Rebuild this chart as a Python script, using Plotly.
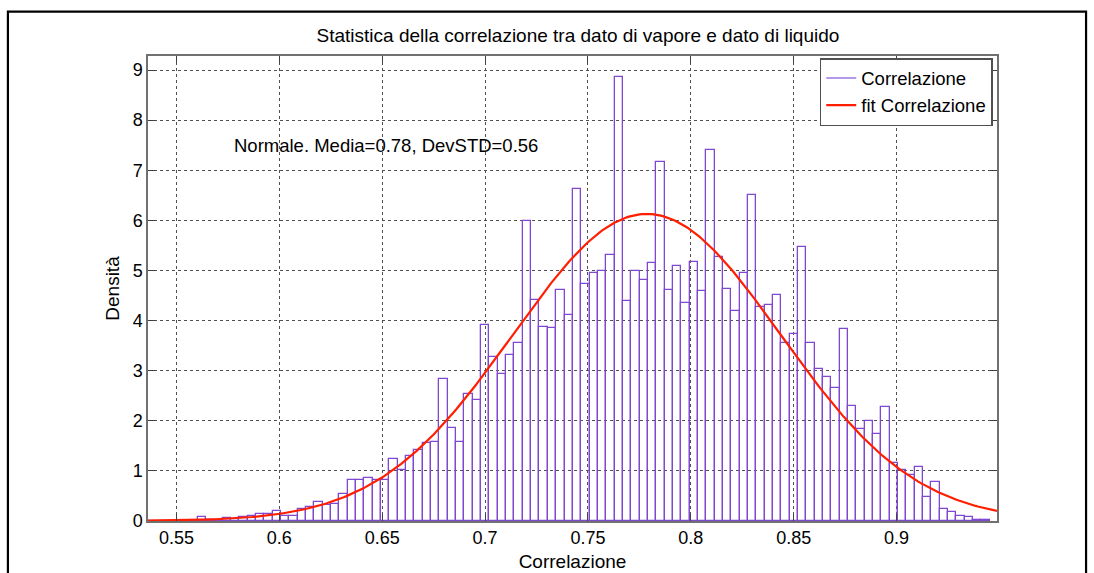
import numpy as np
import plotly.graph_objects as go

# Histogram of the correlation values (density normalised)
bin_start = 0.5361
bin_width = 0.00405
density = [
    0.00, 0.00, 0.00, 0.01, 0.01, 0.01, 0.07, 0.02, 0.02, 0.06,
    0.04, 0.07, 0.10, 0.13, 0.13, 0.20, 0.10, 0.09, 0.23, 0.27,
    0.37, 0.31, 0.34, 0.54, 0.82, 0.82, 0.85, 0.82, 0.82, 1.23,
    1.02, 1.29, 1.41, 1.55, 1.58, 2.83, 1.86, 1.58, 2.54, 2.41,
    3.91, 3.28, 2.94, 3.31, 3.55, 5.98, 4.42, 3.88, 3.86, 4.62,
    4.11, 6.62, 4.73, 4.94, 4.98, 5.30, 8.86, 4.39, 4.98, 4.80,
    5.14, 7.16, 4.62, 5.08, 4.36, 5.16, 4.60, 7.40, 5.26, 4.63,
    4.19, 4.94, 6.51, 4.28, 4.32, 4.52, 3.55, 3.73, 5.46, 3.55,
    3.03, 2.87, 2.66, 3.83, 2.30, 1.84, 1.99, 1.73, 2.27, 1.15,
    1.02, 0.92, 1.08, 0.47, 0.77, 0.23, 0.17, 0.10, 0.07, 0.03,
    0.03,
]

# Normal fit parameters
fit_mean = 0.7786
fit_sigma = 0.0651

x_range = [0.53619, 0.94879]
x_tickvals = [0.55, 0.6, 0.65, 0.7, 0.75, 0.8, 0.85, 0.9]
x_ticktext = ["0.55", "0.6", "0.65", "0.7", "0.75", "0.8", "0.85", "0.9"]
y_tickvals = [0, 1, 2, 3, 4, 5, 6, 7, 8, 9]

centers = [bin_start + (i + 0.5) * bin_width for i in range(len(density))]

xf = np.linspace(x_range[0], x_range[1], 400)
yf = np.exp(-0.5 * ((xf - fit_mean) / fit_sigma) ** 2) / (fit_sigma * np.sqrt(2 * np.pi))

purple = "#8048d0"
red = "#ff1e00"
font = "Liberation Sans, Arial, sans-serif"

fig = go.Figure()
fig.add_trace(go.Bar(
    x=centers, y=density, width=bin_width,
    marker=dict(color="rgba(0,0,0,0)", line=dict(color=purple, width=1.3)),
    showlegend=False, hoverinfo="x+y",
))
fig.add_trace(go.Scatter(
    x=[None], y=[None], mode="lines", name="Correlazione",
    line=dict(color="#9a78e0", width=1.5),
))
fig.add_trace(go.Scatter(
    x=xf, y=yf, mode="lines", name="fit Correlazione",
    line=dict(color=red, width=2.2),
))

axis_common = dict(
    showline=True, linecolor="#707070", linewidth=1.5, mirror="ticks",
    ticks="inside", ticklen=7, tickcolor="#404040", tickwidth=1.2,
    showgrid=True, gridcolor="#505050", griddash="dot", gridwidth=1,
    zeroline=False, automargin=False,
    tickfont=dict(family=font, size=18, color="black"),
)

fig.update_xaxes(
    range=x_range, tickvals=x_tickvals, ticktext=x_ticktext,
    title=dict(text="Correlazione", font=dict(family=font, size=19, color="black"), standoff=7),
    **axis_common,
)
fig.update_yaxes(
    range=[0, 9.28], tickvals=y_tickvals,
    title=dict(text="Densità", font=dict(family=font, size=19, color="black"), standoff=8),
    **axis_common,
)

fig.add_annotation(
    x=0.5769, y=7.5, xref="x", yref="y", xanchor="left", yanchor="middle",
    text="Normale. Media=0.78, DevSTD=0.56", showarrow=False,
    font=dict(family=font, size=18.5, color="black"),
)

# Outer black frame around the figure
fig.add_shape(
    type="rect", xref="paper", yref="paper",
    x0=-0.165, x1=1.1049, y0=-0.2, y1=1.0953,
    line=dict(color="black", width=2.2), fillcolor="rgba(0,0,0,0)", layer="above",
)

fig.update_layout(
    width=1094, height=573,
    margin=dict(l=148, r=97, t=56, b=52),
    paper_bgcolor="white", plot_bgcolor="white",
    bargap=0,
    title=dict(
        text="Statistica della correlazione tra dato di vapore e dato di liquido",
        x=0.5283, xanchor="center", y=1 - 35 / 573, yanchor="middle",
        yref="container", xref="container",
        font=dict(family=font, size=19, color="black"),
    ),
    legend=dict(
        x=0.995, y=0.9955, xanchor="right", yanchor="top",
        bgcolor="white", bordercolor="#505050", borderwidth=1.5,
        font=dict(family=font, size=18.5, color="black"),
        tracegroupgap=0, itemwidth=30,
    ),
    showlegend=True,
)

fig.write_html("out.html")
